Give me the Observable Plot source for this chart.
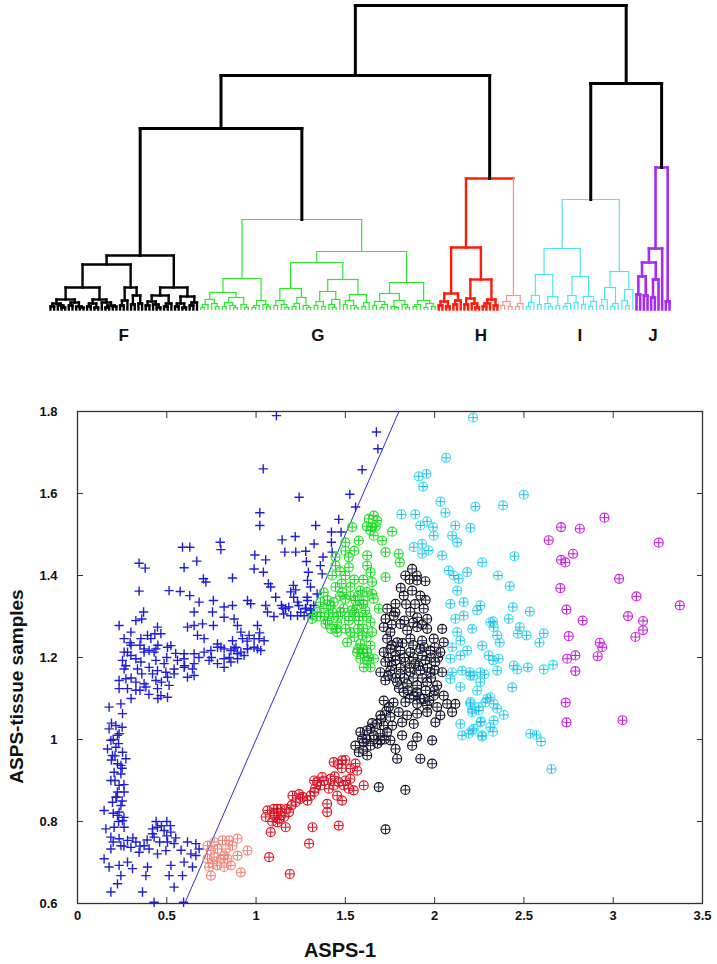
<!DOCTYPE html>
<html>
<head>
<meta charset="utf-8">
<script src="https://cdn.jsdelivr.net/npm/d3@7"></script>
<script src="https://cdn.jsdelivr.net/npm/@observablehq/plot@0.6"></script>
<style>
  html, body { margin: 0; padding: 0; background: #fff; }
  #chart { width: 717px; }
  #chart svg { display: block; }
</style>
</head>
<body>
<div id="chart"></div>
<script>
// ---------- Dendrogram (merge heights, leaf = 0) ----------
const treeF = [54,
  [45,
    [22, [10,[6,[3,0,0],[4,0,[2,0,0]]],[7,[4,0,0],[3,0,[2,0,0]]]], [10,[6,[3,0,0],[2,0,0]],[7,0,[4,[2,0,0],[3,0,0]]]]],
    [22, [9,[4,0,0],0], [14,[5,0,0],[6,0,0]]]],
  [22,
    [14, [8,[4,0,0],[5,0,[2,0,0]]], [6,[3,0,0],0]],
    [13, [6,[3,0,0],[2,0,0]], [7,[4,0,0],0]]]];
const treeG = [90,
  [31,
    [17, [10,[5,[2,0,0],0],[6,0,[3,0,0]]], [12,[7,[3,0,0],[4,0,[2,0,0]]],[5,0,[2,0,0]]]],
    [9, [4,[2,0,0],0], [5,0,[3,0,0]]]],
  [58,
    [47,
      [21, [9,[4,0,0],[5,0,[2,0,0]]], [12,[6,[3,0,0],0],[4,0,[2,0,0]]]],
      [30,
        [18, [8,[4,0,0],[3,0,0]], [10,[5,0,[2,0,0]],0]],
        [15, [9,[5,0,0],[4,0,[2,0,0]]], [7,[3,0,0],0]]]],
    [27,
      [16, [8,[4,0,0],[5,[2,0,0],0]], [9,[3,0,[2,0,0]],[5,0,[2,0,0]]]],
      [9, [5,[3,0,0],0], [6,[2,0,0],[3,0,0]]]]]];
const treeHred = [62,
  [16, [8,[4,0,0],[3,0,0]], [9,[5,0,0],0]],
  [30, [11,[5,0,0],[6,0,[2,0,0]]], [10,[6,[3,0,0],0],[4,0,0]]]];
const treeHsalmon = [14, [8,[4,0,0],[3,0,0]], [6,[3,0,0],0]];
const treeI = [110,
  [61,
    [35, [14,[7,[3,0,0],0],[5,0,0]], [13,[6,0,[3,0,0]],[4,0,0]]],
    [33, [14,[6,[3,0,0],0],[7,0,0]], [13,[5,0,0],[8,[3,0,0],0]]]],
  [38, [22,[10,[4,0,0],0],[6,[3,0,0],0]], [20,[9,0,[4,0,0]],0]]];
const treeJ = [142, [61, [47, [33,[15,0,0],[14,0,0]], [30,[12,0,0],0]], 0], [8,0,0]];
const heightRoot = 304, heightL = 234, heightR = 226, heightLL = 181, heightH = 131;
const clusterNames = ["F", "G", "H", "I", "J"];

// ---------- Scatter data: [ASPS-1, ASPS-tissue samples] ----------
const blue = [
[1.114,1.79],[1.04,1.66],[1.241,1.591],[1.021,1.553],[1.021,1.522],[1.146,1.487],[1.219,1.495],[1.161,1.457],[1.222,1.457],[1.278,1.459],[1.325,1.477],[1.334,1.522],
[0.588,1.469],[0.629,1.469],[0.799,1.481],[0.803,1.463],[0.345,1.43],[0.379,1.418],[0.597,1.419],[0.668,1.435],[0.993,1.45],[1.054,1.438],[0.989,1.416],[1.041,1.408],
[0.705,1.392],[0.719,1.384],[0.868,1.394],[1.069,1.38],[1.082,1.372],[1.282,1.434],[1.293,1.408],[1.288,1.388],[1.209,1.376],[1.222,1.365],[1.194,1.36],
[0.345,1.362],[0.513,1.363],[0.575,1.361],[0.629,1.351],[0.37,1.311],[0.36,1.294],[0.327,1.29],[0.233,1.278],
[0.681,1.335],[0.761,1.339],[0.653,1.311],[0.756,1.311],[0.821,1.323],[0.868,1.327],[0.952,1.339],[0.97,1.331],[1.054,1.327],[1.064,1.311],[1.11,1.347],
[1.142,1.327],[1.166,1.319],[1.232,1.335],[1.288,1.339],[1.306,1.319],[1.194,1.302],[1.232,1.302],[1.269,1.302],[1.306,1.306],
[0.821,1.298],[0.877,1.294],[0.896,1.278],[0.616,1.274],[0.653,1.278],[0.7,1.282],[0.761,1.278],
[0.299,1.262],[0.261,1.246],[0.295,1.236],[0.355,1.246],[0.392,1.254],[0.411,1.246],[0.448,1.274],[0.467,1.258],[0.433,1.258],
[0.915,1.262],[0.924,1.246],[0.961,1.254],[1.008,1.278],[0.989,1.246],[1.017,1.246],[1.045,1.241],[0.868,1.241],[0.877,1.221],[0.952,1.221],[1.008,1.221],
[0.523,1.229],[0.672,1.254],[0.709,1.246],[0.784,1.233],[0.803,1.225],[0.28,1.213],[0.373,1.213],[0.429,1.213],[0.597,1.209],[0.653,1.209],
[1.674,1.75],[1.682,1.709],[1.594,1.658],[1.525,1.598],[1.557,1.567],[1.463,1.537],[1.422,1.506],[1.476,1.506],[1.422,1.481],[1.375,1.445],[1.36,1.424],[1.426,1.457],[1.37,1.404],[1.305,1.372],[1.211,1.347],[1.286,1.347],[1.342,1.355],[1.183,1.323],[1.239,1.327],[1.276,1.319],[1.155,1.306],[1.305,1.315],[1.323,1.327],
[0.261,1.213],[0.299,1.205],[0.373,1.221],[0.401,1.217],[0.439,1.221],[0.504,1.225],[0.252,1.193],[0.327,1.197],[0.355,1.189],[0.439,1.193],[0.485,1.185],[0.56,1.193],[0.597,1.197],
[0.261,1.172],[0.336,1.172],[0.401,1.176],[0.448,1.168],[0.495,1.164],[0.541,1.172],[0.597,1.176],[0.653,1.185],[0.644,1.172],
[0.709,1.213],[0.747,1.217],[0.784,1.225],[0.821,1.221],[0.859,1.217],[0.887,1.225],[0.915,1.213],[0.952,1.221],[0.989,1.225],[1.026,1.217],[0.821,1.197],[0.784,1.185],[0.859,1.189],[0.896,1.197],[0.821,1.176],[0.737,1.193],[0.896,1.209],[0.933,1.205],
[0.233,1.144],[0.271,1.148],[0.327,1.14],[0.373,1.136],[0.439,1.144],[0.504,1.152],[0.541,1.16],[0.616,1.152],[0.653,1.156],
[0.233,1.124],[0.28,1.124],[0.327,1.12],[0.383,1.128],[0.448,1.124],[0.513,1.132],[0.467,1.107],[0.504,1.103],
[0.177,1.079],[0.243,1.087],[0.252,1.063],
[0.177,1.026],[0.215,1.034],[0.233,1.014],[0.187,0.998],[0.168,0.977],[0.215,0.981],[0.252,0.969],[0.224,0.941],[0.271,0.953],[0.205,0.92],[0.243,0.916],[0.187,0.9],[0.233,0.888],[0.261,0.872],[0.215,0.859],[0.196,0.847],[0.243,0.839],[0.149,0.827],[0.224,0.815],[0.252,0.802],[0.205,0.786],[0.261,0.786],[0.224,1.01],[0.196,0.961],[0.243,0.937],[0.224,0.872],[0.233,0.823],
[0.159,0.782],[0.187,0.762],[0.233,0.758],[0.28,0.754],[0.327,0.75],[0.373,0.741],[0.42,0.782],[0.448,0.786],[0.485,0.778],[0.523,0.774],[0.429,0.762],[0.504,0.75],[0.541,0.746],[0.401,0.733],[0.345,0.725],[0.299,0.737],[0.243,0.741],[0.187,0.733],[0.448,0.721],[0.495,0.729],[0.616,0.75],[0.663,0.746],[0.681,0.733],[0.635,0.721],[0.663,0.717],
[0.149,0.709],[0.177,0.689],[0.233,0.693],[0.28,0.701],[0.243,0.668],[0.308,0.685],[0.392,0.689],[0.383,0.668],[0.523,0.693],[0.513,0.668],[0.597,0.701],[0.588,0.668],[0.644,0.689],[0.224,0.648],[0.187,0.628],[0.364,0.628],[0.541,0.64],[0.429,0.603],[0.594,0.603],
[0.2,1.0],[0.23,0.99],[0.19,0.95],[0.25,0.93],[0.21,0.9],[0.26,0.89],[0.22,0.86],[0.25,0.85],[0.2,0.82],[0.23,0.8],[0.26,0.81],[0.21,0.96],[0.25,1.03],[0.19,1.04],
[0.2,0.75],[0.26,0.74],[0.31,0.76],[0.35,0.74],[0.39,0.755],[0.46,0.75],[0.5,0.765],[0.55,0.76],[0.58,0.73],[0.42,0.77],[0.47,0.79],[0.52,0.79],[0.44,0.8],[0.5,0.8],
[0.3,1.23],[0.35,1.23],[0.45,1.23],[0.55,1.21],[0.6,1.18],[0.5,1.2],[0.27,1.18],[0.3,1.15],[0.36,1.16],[0.42,1.16],[0.47,1.14],[0.3,1.1],[0.35,1.12],[0.4,1.11],[0.45,1.1],[0.68,1.2],[0.75,1.2],[0.85,1.2],[0.95,1.24],[1.02,1.26],[1.1,1.3],[1.15,1.32],[1.25,1.31],[1.28,1.32]
];
const salmon = [[0.728,0.741],[0.765,0.75],[0.812,0.754],[0.849,0.754],[0.896,0.758],[0.747,0.729],[0.784,0.733],[0.831,0.733],[0.868,0.741],[0.952,0.729],[0.728,0.709],[0.765,0.713],[0.821,0.717],[0.896,0.717],[0.737,0.689],[0.784,0.693],[0.821,0.689],[0.859,0.693],[0.747,0.668],[0.915,0.676],[0.803,0.709],[0.84,0.709],[0.756,0.697]];
const red = [[1.064,0.827],[1.12,0.831],[1.185,0.823],[1.054,0.811],[1.101,0.815],[1.157,0.811],[1.12,0.798],[1.082,0.774],[1.166,0.786],[1.204,0.863],[1.241,0.867],[1.288,0.851],[1.325,0.9],[1.316,0.786],[1.297,0.746],[1.073,0.713],[1.189,0.672],[1.325,0.872],
[1.099,0.831],[1.137,0.831],[1.249,0.855],[1.37,0.908],[1.417,0.904],[1.361,0.888],[1.435,0.888],[1.463,0.896],[1.491,0.888],[1.528,0.904],[1.519,0.88],[1.454,0.863],[1.482,0.851],[1.547,0.876],[1.435,0.945],[1.482,0.949],[1.528,0.929],[1.557,0.941],[1.566,0.924],[1.603,0.888],[1.398,0.843],[1.398,0.823],[1.463,0.79],[1.342,0.896],[1.407,0.88],[1.305,0.863],[1.221,0.847],
[1.1,0.82],[1.14,0.815],[1.17,0.83],[1.2,0.84],[1.26,0.86],[1.33,0.88],[1.38,0.9],[1.44,0.91],[1.48,0.93],[1.5,0.9],[1.46,0.94],[1.5,0.95],[1.09,0.8],[1.13,0.805]];
const black = [[1.715,1.213],[1.752,1.221],[1.808,1.217],[1.864,1.213],[1.92,1.221],[1.976,1.217],[2.032,1.213],[1.724,1.189],[1.781,1.193],[1.836,1.189],[1.892,1.185],[1.948,1.193],[2.004,1.189],[1.696,1.164],[1.752,1.168],[1.808,1.16],[1.864,1.164],[1.92,1.168],[1.976,1.164],[2.042,1.164],[1.724,1.144],[1.79,1.14],[1.846,1.136],[1.902,1.132],[1.958,1.14],[2.014,1.132],[1.827,1.115],[1.883,1.107],[1.939,1.099],[1.995,1.107],[2.051,1.107],[1.836,1.091],[1.902,1.087],[1.958,1.083],[2.014,1.079],[2.07,1.087],[2.116,1.087],[1.715,1.095],[1.743,1.079],[1.696,1.059],[1.752,1.055],[1.799,1.067],[1.846,1.059],[1.902,1.063],[1.958,1.067],[2.032,1.059],[2.098,1.067],[1.715,1.034],[1.762,1.034],[1.818,1.042],[1.883,1.038],[2.004,1.042],[1.584,1.018],[1.622,1.022],[1.659,1.01],[1.696,1.014],[1.734,1.018],[1.603,0.993],[1.641,0.985],[1.696,0.998],[1.752,0.998],[1.818,1.01],[1.902,1.006],[1.986,0.998],[1.575,0.969],[1.622,0.961],[1.781,0.977],[1.79,0.953],[1.874,0.985],[1.92,0.953],[1.986,0.941],[1.687,0.884],[1.836,0.877],[1.725,0.781],[1.594,1.002],[1.556,0.985],[1.641,1.026],[1.678,1.038],
[1.874,1.416],[1.836,1.4],[1.902,1.388],[1.948,1.386],[1.874,1.363],[1.827,1.351],[1.92,1.351],[1.781,1.331],[1.939,1.319],[1.734,1.319],[1.864,1.311],[1.902,1.298],[1.958,1.294],[1.725,1.294],[1.771,1.302],[1.808,1.282],[1.715,1.274],[1.752,1.262],[1.846,1.266],[1.902,1.274],[1.958,1.27],[2.042,1.27],[1.734,1.246],[1.79,1.237],[1.864,1.246],[1.93,1.241],[1.995,1.246],[2.051,1.237],
[1.74,1.2],[1.78,1.205],[1.83,1.2],[1.88,1.2],[1.93,1.205],[1.98,1.2],[2.02,1.2],[1.76,1.18],[1.81,1.175],[1.86,1.175],[1.91,1.18],[1.96,1.175],[2.0,1.17],[1.74,1.155],[1.78,1.15],[1.83,1.15],[1.88,1.15],[1.93,1.15],[1.98,1.15],[1.8,1.125],[1.85,1.12],[1.9,1.115],[1.95,1.12],[2.0,1.12],[1.86,1.1],[1.92,1.1],[1.97,1.095],[1.76,1.23],[1.82,1.235],[1.88,1.23],[1.94,1.225],[2.0,1.225],[1.76,1.28],[1.83,1.29],[1.88,1.285],[1.93,1.28],[1.78,1.31],[1.84,1.33],[1.89,1.33],[1.95,1.34],[1.81,1.37],[1.86,1.39],[1.9,1.4],[1.62,1.0],[1.66,1.0],[1.6,0.975],[1.68,0.99],[1.72,1.0],[1.7,1.05],[1.73,1.07],[1.77,1.09],[1.65,1.04]];
const green = [[1.659,1.546],[1.631,1.538],[1.678,1.534],[1.65,1.518],[1.762,1.507],[1.538,1.518],[1.575,1.485],[1.5,1.481],[1.706,1.485],[1.659,1.497],[1.445,1.445],[1.519,1.445],[1.622,1.449],[1.725,1.457],[1.799,1.453],[1.805,1.432],[1.622,1.424],[1.641,1.408],[1.445,1.424],[1.5,1.4],[1.426,1.4],[1.725,1.396],[1.65,1.384],[1.528,1.372],[1.584,1.363],[1.65,1.355],[1.379,1.359],[1.445,1.372],[1.361,1.335],[1.435,1.335],[1.5,1.343],[1.557,1.339],[1.603,1.339],[1.659,1.343],[1.687,1.319],[1.342,1.311],[1.407,1.306],[1.473,1.311],[1.538,1.315],[1.612,1.315],[1.314,1.294],[1.389,1.282],[1.454,1.286],[1.519,1.29],[1.575,1.29],[1.641,1.286],[1.454,1.262],[1.528,1.262],[1.594,1.254],[1.65,1.262],[1.51,1.237],[1.584,1.233],[1.641,1.229],[1.566,1.213],[1.622,1.213],[1.584,1.197],[1.622,1.193],[1.659,1.197],[1.603,1.176],[1.641,1.176],[1.417,1.327],[1.566,1.327],[1.482,1.359],
[1.36,1.3],[1.38,1.32],[1.4,1.29],[1.43,1.31],[1.46,1.3],[1.49,1.32],[1.52,1.3],[1.55,1.31],[1.58,1.3],[1.6,1.33],[1.62,1.3],[1.4,1.34],[1.47,1.35],[1.53,1.35],[1.57,1.35],[1.62,1.36],[1.48,1.38],[1.55,1.39],[1.6,1.39],[1.47,1.41],[1.52,1.42],[1.57,1.27],[1.6,1.27],[1.62,1.25],[1.55,1.25],[1.6,1.22],[1.57,1.22],[1.63,1.2],[1.6,1.21],[1.45,1.27],[1.42,1.27],[1.5,1.27],[1.64,1.51],[1.67,1.52],[1.62,1.52],[1.34,1.3],[1.5,1.46],[1.55,1.46]];
const cyan = [[2.215,1.785],[2.064,1.687],[1.911,1.642],[1.954,1.648],[1.935,1.617],[2.032,1.58],[1.814,1.549],[1.892,1.549],[2.06,1.553],[2.228,1.568],[1.92,1.522],[1.958,1.532],[1.991,1.518],[1.995,1.497],[2.116,1.522],[2.2,1.516],[2.098,1.497],[2.126,1.481],[1.883,1.469],[1.93,1.477],[1.967,1.461],[1.93,1.453],[2.042,1.449],[2.266,1.432],[2.079,1.412],[2.107,1.4],[2.135,1.392],[2.182,1.408],[2.126,1.363],[2.088,1.331],[2.163,1.335],[2.256,1.327],[2.238,1.315],[2.116,1.294],[2.163,1.302],[2.21,1.27],[2.312,1.286],[2.126,1.262],[2.144,1.241],[2.266,1.229],[2.098,1.225],[2.182,1.217],
[2.088,1.197],[2.144,1.205],[2.098,1.164],[2.154,1.168],[2.2,1.156],[2.256,1.164],[2.088,1.148],[2.144,1.128],[2.2,1.087],[2.247,1.079],[2.294,1.099],[2.21,1.067],[2.144,1.038],[2.256,1.042],[2.154,1.01],[2.21,1.022],[2.266,1.01],[2.312,1.03],
[2.499,1.597],[2.383,1.571],[2.447,1.447],[2.355,1.4],[2.421,1.374],[2.438,1.323],[2.533,1.312],[2.415,1.294],[2.327,1.288],[2.331,1.274],[2.35,1.254],[2.365,1.236],[2.477,1.274],[2.466,1.258],[2.514,1.254],[2.611,1.259],[2.587,1.236],[2.303,1.205],[2.327,1.193],[2.359,1.197],[2.35,1.168],[2.443,1.18],[2.462,1.171],[2.522,1.176],[2.611,1.171],[2.663,1.182],[2.197,1.164],[2.215,1.156],[2.279,1.159],[2.256,1.14],[2.238,1.119],[2.434,1.127],[2.312,1.103],[2.284,1.091],[2.331,1.087],[2.2,1.091],[2.21,1.073],[2.35,1.075],[2.387,1.06],[2.247,1.071],[2.26,1.044],[2.331,1.046],[2.219,1.026],[2.191,1.014],[2.266,1.007],[2.327,1.019],[2.536,1.014],[2.57,1.011],[2.596,0.995],[2.654,0.928]];
const magenta = [[2.951,1.541],[2.708,1.518],[2.813,1.514],[2.639,1.486],[3.255,1.48],[2.775,1.453],[2.708,1.438],[2.732,1.432],[3.033,1.392],[2.704,1.369],[3.13,1.349],[3.373,1.327],[2.738,1.317],[3.083,1.301],[2.829,1.29],[3.167,1.289],[3.167,1.267],[3.124,1.25],[2.751,1.252],[2.925,1.236],[2.938,1.225],[2.788,1.205],[2.742,1.197],[2.913,1.203],[2.788,1.167],[2.734,1.09],[2.738,1.042],[3.052,1.047]];
const diagonal = [0.6, 1.8];
const xTicks = [0, 0.5, 1, 1.5, 2, 2.5, 3, 3.5];
const yTicks = [0.6, 0.8, 1, 1.2, 1.4, 1.6, 1.8];

// ---------- build dendrogram segments ----------
const FONT = "'Liberation Sans', Arial, Helvetica, sans-serif";
const upper = {c: "#000", w: 3};
const tagged = (name, c, w, t, stem) => ({name, c, w, t, stem});
const root = [heightRoot,
  [heightL,
    [heightLL, tagged("F", "#000", 2.4, treeF), tagged("G", "#2ee82e", 1.2, treeG)],
    tagged("H", "#ff1a0a", 2.4, [heightH, treeHred, tagged(null, "#f4978e", 1.2, treeHsalmon, true)])],
  [heightR, tagged("I", "#4fe6f2", 1.2, treeI), tagged("J", "#a72cf2", 2.6, treeJ)]];

let leafIndex = 0;
const segs = [];
const clusterLeaves = {};
function walk(node, style, label) {
  if (node !== 0 && !Array.isArray(node)) {
    style = {c: node.c, w: node.w};
    if (node.name) label = node.name;
    node = node.t;
  }
  if (node === 0) {
    const x = leafIndex++;
    if (label) (clusterLeaves[label] ||= []).push(x);
    return {x, h: 0, style};
  }
  const [h, a, b] = node;
  const kids = [a, b].map(k => ({k, r: walk(k, style, label)}));
  segs.push({x1: kids[0].r.x, x2: kids[1].r.x, y1: h, y2: h, c: style.c, w: style.w});
  for (const {k, r} of kids) {
    const s = (k && k.stem) ? r.style : style;
    segs.push({x1: r.x, x2: r.x, y1: h, y2: r.h, c: s.c, w: s.w});
  }
  return {x: (kids[0].r.x + kids[1].r.x) / 2, h, style};
}
walk(root, upper, null);
const labelData = clusterNames.map(n => ({name: n, x: (d3.min(clusterLeaves[n]) + d3.max(clusterLeaves[n])) / 2}));

const dendro = Plot.plot({
  width: 717, height: 348,
  marginLeft: 50, marginRight: 48, marginTop: 5, marginBottom: 39,
  x: {domain: [0, leafIndex - 1], axis: null},
  y: {domain: [0, heightRoot], axis: null},
  color: {type: "identity"},
  style: {fontFamily: FONT, background: "#fff"},
  marks: [
    Plot.link(segs, {x1: "x1", y1: "y1", x2: "x2", y2: "y2", stroke: "c", strokeWidth: "w", strokeLinecap: "square"}),
    Plot.text(labelData, {x: "x", y: 0, dy: 26, text: "name", fontSize: 17, fontWeight: "bold", fill: "#111", lineAnchor: "middle"})
  ]
});

// ---------- scatter ----------
const px = d => d[0], py = d => d[1];
const ringed = (data, ring, cross) => [
  Plot.dot(data, {x: px, y: py, r: 4.5, stroke: ring, fill: "none", strokeWidth: 1.2}),
  Plot.dot(data, {x: px, y: py, r: 2.7, symbol: "plus", stroke: cross, strokeWidth: 1})
];
const scatter = Plot.plot({
  width: 717, height: 616,
  marginLeft: 77, marginRight: 15, marginTop: 63, marginBottom: 61,
  x: {domain: [0, 3.5]},
  y: {domain: [0.6, 1.8]},
  style: {fontFamily: FONT, fontSize: "13px", fontWeight: "bold", background: "#fff", color: "#111"},
  marks: [
    Plot.dot(blue, {x: px, y: py, r: 3.1, symbol: "plus", stroke: "#1f1fd8", strokeWidth: 1.4}),
    Plot.line(diagonal, {x: d => d, y: d => d, stroke: "#3030cc", strokeWidth: 1}),
    ...ringed(salmon, "#f2897c", "#e8807a"),
    ...ringed(red, "#ee1414", "#c8143a"),
    ...ringed(black, "#111", "#1c1c48"),
    ...ringed(green, "#22e622", "#1ccc30"),
    ...ringed(cyan, "#3fe0f0", "#2ab4e6"),
    ...ringed(magenta, "#d424e4", "#b41ed0"),
    Plot.frame({stroke: "#333", strokeWidth: 1.3}),
    Plot.axisX(xTicks, {anchor: "bottom", tickSize: 0, tickPadding: 7, tickFormat: d => String(d)}),
    Plot.axisY(yTicks, {anchor: "left", tickSize: 0, tickPadding: 20, tickFormat: d => String(d)}),
    Plot.axisX(xTicks, {anchor: "bottom", tickSize: 6, dy: -6, tickFormat: () => "", stroke: "#333"}),
    Plot.axisX(xTicks, {anchor: "top", tickSize: 6, dy: 6, tickFormat: () => "", stroke: "#333"}),
    Plot.axisY(yTicks, {anchor: "left", tickSize: 6, dx: 6, tickFormat: () => "", stroke: "#333"}),
    Plot.axisY(yTicks, {anchor: "right", tickSize: 6, dx: -6, tickFormat: () => "", stroke: "#333"}),
    Plot.text(["ASPS-tissue samples"], {frameAnchor: "left", dx: -61, dy: 29, rotate: -90, textAnchor: "middle", fontSize: 19, fontWeight: "bold", fill: "#111", lineAnchor: "middle"}),
    Plot.text(["ASPS-1"], {frameAnchor: "bottom", dx: -50, dy: 47, textAnchor: "middle", fontSize: 20, fontWeight: "bold", fill: "#111", lineAnchor: "middle"})
  ]
});

const chart = document.getElementById("chart");
chart.append(dendro, scatter);
</script>
</body>
</html>
